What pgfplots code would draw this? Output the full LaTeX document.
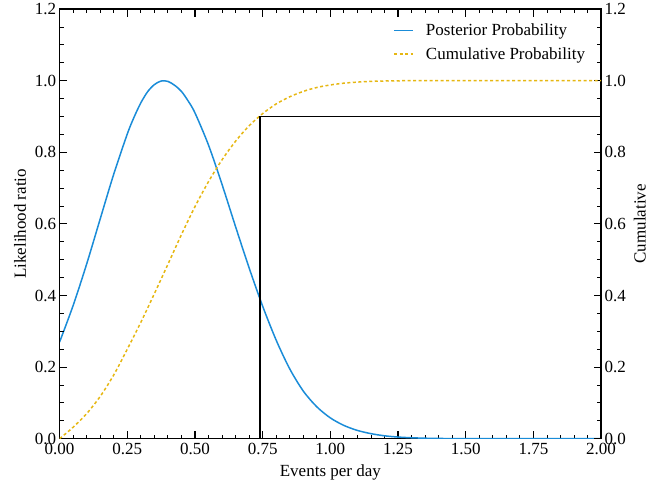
\documentclass[border=0pt]{standalone}
\usepackage{fontspec}
\setmainfont{Liberation Serif}
\usepackage{pgfplots}
\pgfplotsset{compat=1.18}

\definecolor{postblue}{HTML}{1A8CD8}
\definecolor{cumgold}{HTML}{E6B712}
\newcommand\fs{\fontsize{17bp}{20bp}\selectfont}

\pgfplotsset{
  base/.style={
    width=541.5bp, height=429.6bp, scale only axis,
    xmin=0, xmax=2, ymin=0, ymax=1.2,
    tick align=inside,
    major tick length=7.5bp, minor tick length=4bp,
    every major tick/.append style={line width=1.1bp, black},
    every minor tick/.append style={line width=0.9bp, black},
    axis line style={line width=1.4bp, -},
    xtick distance=0.25, ytick distance=0.2,
    minor x tick num=4, minor y tick num=3,
    /pgf/number format/assume math mode=true,
    tick label style={font=\fs},
    xticklabel style={yshift=-1bp, /pgf/number format/.cd, fixed, fixed zerofill, precision=2},
    yticklabel style={/pgf/number format/.cd, fixed, fixed zerofill, precision=1},
  },
}

\begin{document}
\begin{tikzpicture}
  % left axis: posterior
  \begin{axis}[base, name=ax,
      xlabel={Events per day},
      ylabel={Likelihood ratio},
      xlabel style={font=\fs, yshift=-3bp},
      ylabel style={font=\fs, yshift=2bp},
    ]
    \addplot[postblue, line width=1.5bp, smooth, tension=0.5] coordinates {
      (0.000,0.270) (0.050,0.372) (0.100,0.488) (0.150,0.614) (0.200,0.739)
      (0.250,0.851) (0.275,0.898) (0.300,0.938) (0.325,0.969) (0.350,0.989)
      (0.375,0.999) (0.400,0.998) (0.425,0.987) (0.450,0.970) (0.475,0.943)
      (0.500,0.910) (0.550,0.820) (0.600,0.710) (0.650,0.592) (0.700,0.477)
      (0.750,0.370) (0.800,0.275) (0.850,0.195) (0.900,0.133) (0.950,0.089)
      (1.000,0.058) (1.050,0.037) (1.100,0.023) (1.150,0.014) (1.200,0.008)
      (1.250,0.0045) (1.300,0.0025) (1.350,0.0013) (1.400,0.0006)
      (1.500,0.0001) (1.750,0.000) (2.000,0.000)
    };
  \end{axis}
  % right axis: cumulative
  \begin{axis}[base,
      hide x axis,
      yticklabel pos=right,
      ylabel near ticks,
      ylabel={Cumulative},
      ylabel style={font=\fs, yshift=-1bp},
      legend cell align=left,
      legend style={draw=none, fill=none, font=\fs, at={(0.98,0.975)},
        anchor=north east, row sep=6bp},
      legend image code/.code={\draw[#1] (0bp,0bp) -- (19bp,0bp); \path (29bp,0bp);},
    ]
    \addlegendimage{postblue, line width=1.5bp}
    \addlegendentry{Posterior Probability}
    \addplot[cumgold, line width=1.5bp, dash pattern=on 3bp off 2.5bp, smooth, tension=0.5] coordinates {
      (0.00,0.000) (0.05,0.032) (0.10,0.070) (0.15,0.118) (0.20,0.178)
      (0.25,0.250) (0.30,0.325) (0.35,0.405) (0.40,0.487) (0.45,0.570)
      (0.50,0.648) (0.55,0.718) (0.60,0.779) (0.65,0.831) (0.70,0.874)
      (0.75,0.908) (0.80,0.935) (0.85,0.955) (0.90,0.970) (0.95,0.981)
      (1.00,0.988) (1.05,0.993) (1.10,0.996) (1.15,0.998) (1.20,0.999)
      (1.30,1.000) (1.60,1.000) (2.00,1.000)
    };
    \addlegendentry{Cumulative Probability}
    \addplot[black, line width=1.1bp, forget plot] coordinates {
      (0.74,0.0) (0.74,0.90) (2.00,0.90)
    };
  \end{axis}
  \path ([xshift=-59.6bp,yshift=-49bp]ax.south west) rectangle ([xshift=48.9bp,yshift=8.4bp]ax.north east);
\end{tikzpicture}
\end{document}
